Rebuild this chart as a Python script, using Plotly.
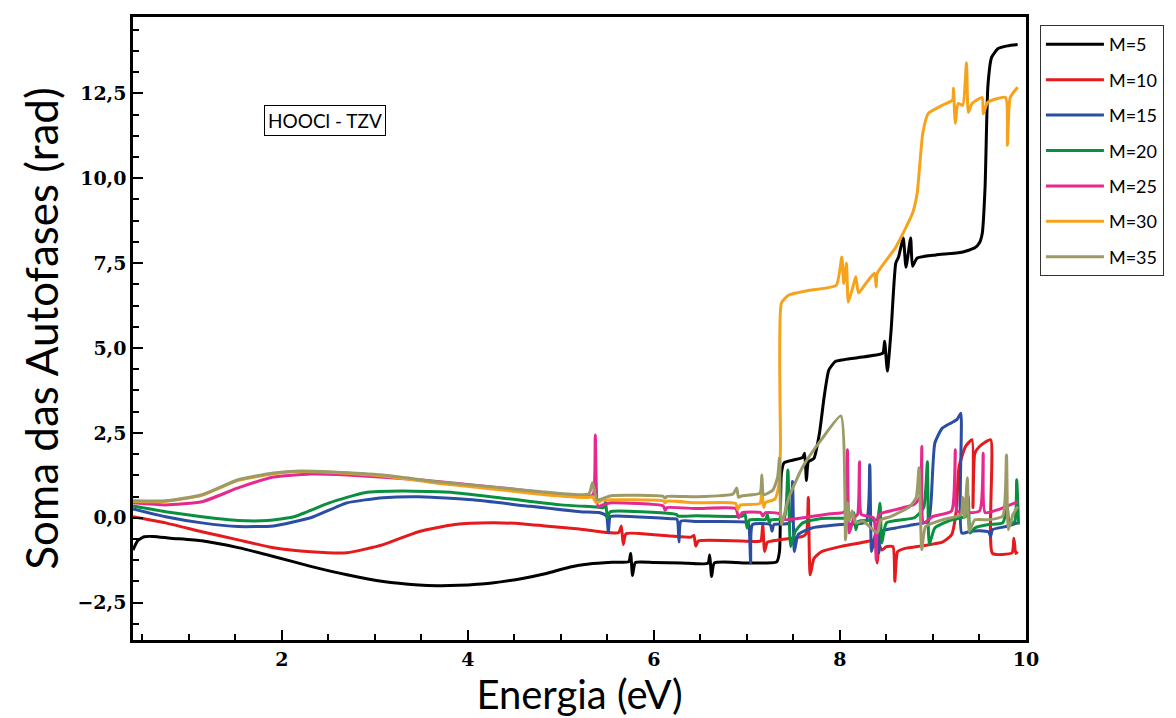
import plotly.graph_objects as go

# Sum of eigenphases vs. collision energy for HOOCl (TZV basis), one curve per M
m5 = [(0.40, -0.95), (0.45, -0.68), (0.52, -0.56), (0.62, -0.55), (0.80, -0.60), (1.14, -0.68),
      (1.53, -0.88), (1.91, -1.14), (2.31, -1.43), (2.70, -1.68), (3.09, -1.88), (3.47, -1.98),
      (3.67, -2.00), (3.90, -1.99), (4.26, -1.92), (4.60, -1.78), (4.83, -1.65), (5.10, -1.45),
      (5.30, -1.36), (5.55, -1.31), (5.73, -1.29), (5.75, -1.05), (5.77, -1.70), (5.80, -1.32),
      (6.00, -1.32), (6.30, -1.33), (6.58, -1.34), (6.60, -1.10), (6.62, -1.73), (6.65, -1.33),
      (7.00, -1.33), (7.20, -1.33), (7.32, -1.30), (7.35, -1.00), (7.37, 1.30), (7.40, 1.62),
      (7.50, 1.70), (7.60, 1.78), (7.62, 1.90), (7.64, 1.10), (7.66, 1.65), (7.72, 1.75),
      (7.78, 2.50), (7.83, 3.56), (7.88, 4.35), (7.95, 4.60), (8.03, 4.65), (8.20, 4.72),
      (8.46, 4.85), (8.48, 5.20), (8.51, 4.32), (8.55, 5.53), (8.60, 7.50), (8.63, 7.68),
      (8.68, 8.24), (8.71, 7.38), (8.76, 8.24), (8.78, 7.41), (8.83, 7.65), (9.03, 7.74),
      (9.31, 7.82), (9.45, 7.95), (9.50, 8.10), (9.53, 8.38), (9.56, 9.74), (9.59, 12.70),
      (9.63, 13.56), (9.70, 13.82), (9.80, 13.90), (9.91, 13.94)]

m10 = [(0.40, 0.03), (0.75, -0.15), (1.14, -0.41), (1.53, -0.65), (1.91, -0.88), (2.31, -1.00),
       (2.70, -1.03), (3.09, -0.79), (3.47, -0.41), (3.86, -0.20), (4.26, -0.15), (4.60, -0.18),
       (4.83, -0.24), (5.20, -0.33), (5.42, -0.41), (5.62, -0.44), (5.65, -0.24), (5.67, -0.79),
       (5.70, -0.47), (6.00, -0.50), (6.40, -0.57), (6.43, -0.52), (6.45, -0.83), (6.48, -0.68),
       (7.10, -0.70), (7.15, -0.68), (7.17, -0.20), (7.19, -0.99), (7.22, -0.72), (7.35, -0.65),
       (7.60, -0.55), (7.64, -0.45), (7.66, 0.60), (7.68, -1.68), (7.72, -1.20), (7.80, -1.00),
       (8.00, -0.85), (8.20, -0.75), (8.37, -0.68), (8.40, -1.33), (8.42, -0.80), (8.45, -0.95),
       (8.50, -0.85), (8.57, -0.85), (8.59, -1.87), (8.62, -1.00), (8.70, -0.90), (8.90, -0.82),
       (9.10, -0.72), (9.20, -0.50), (9.25, 0.20), (9.28, 1.50), (9.35, 2.10), (9.42, 2.30),
       (9.43, 0.30), (9.45, 1.90), (9.50, 2.10), (9.62, 2.30), (9.64, -1.05), (9.85, -1.03),
       (9.87, -0.60), (9.89, -1.05), (9.91, -1.00)]

m15 = [(0.40, 0.26), (0.75, 0.03), (1.14, -0.15), (1.53, -0.26), (1.91, -0.24), (2.31, 0.00),
       (2.70, 0.44), (3.09, 0.59), (3.47, 0.62), (4.05, 0.53), (4.63, 0.35), (5.21, 0.18),
       (5.42, 0.15), (5.49, 0.05), (5.51, -0.44), (5.53, 0.03), (5.60, 0.05), (6.20, -0.03),
       (6.25, -0.05), (6.27, -0.71), (6.29, -0.10), (6.46, -0.11), (7.00, -0.13), (7.02, -0.20),
       (7.04, -1.33), (7.06, -0.20), (7.25, -0.20), (7.27, -0.40), (7.29, -0.20), (7.46, -0.15),
       (7.49, 1.07), (7.51, -0.99), (7.55, -0.50), (7.70, -0.30), (8.00, -0.20), (8.28, -0.12),
       (8.32, 1.56), (8.34, -0.99), (8.38, -0.50), (8.40, -0.45), (8.42, -1.03), (8.44, -0.40),
       (8.60, -0.30), (8.80, -0.20), (8.95, -0.10), (8.98, 0.50), (9.02, 2.20), (9.10, 2.64),
       (9.20, 2.80), (9.26, 2.90), (9.30, 3.08), (9.31, -0.45), (9.40, -0.40), (9.50, -0.38),
       (9.60, -0.42), (9.62, -0.55), (9.64, -0.35), (9.80, -0.25), (9.91, -0.15)]

m20 = [(0.40, 0.35), (0.75, 0.18), (1.14, 0.03), (1.53, -0.08), (1.85, -0.08), (2.13, 0.03),
       (2.51, 0.44), (2.89, 0.74), (3.30, 0.79), (3.86, 0.74), (4.44, 0.56), (5.00, 0.38),
       (5.38, 0.32), (5.46, 0.30), (5.48, 0.47), (5.50, 0.00), (5.53, 0.18), (6.20, 0.12),
       (6.24, 0.10), (6.26, 0.05), (6.46, 0.06), (6.95, 0.05), (6.98, 0.12), (7.00, -0.30),
       (7.03, -0.06), (7.20, -0.05), (7.22, 0.09), (7.24, -0.15), (7.26, -0.06), (7.40, -0.02),
       (7.44, 1.41), (7.47, -0.85), (7.52, -0.40), (7.60, -0.15), (7.80, -0.02), (8.10, 0.00),
       (8.15, 0.15), (8.17, -0.35), (8.20, -0.10), (8.40, -0.05), (8.43, 0.43), (8.45, -0.74),
       (8.50, -0.15), (8.80, 0.00), (8.90, 0.30), (8.94, 1.65), (8.96, -0.79), (9.02, -0.30),
       (9.20, -0.06), (9.36, 0.05), (9.38, 0.63), (9.40, -0.45), (9.45, -0.30), (9.60, -0.20),
       (9.75, -0.15), (9.80, 0.30), (9.82, -0.20), (9.88, -0.10), (9.90, 1.12), (9.92, -0.20)]

m25 = [(0.40, 0.44), (0.75, 0.38), (1.14, 0.47), (1.53, 0.88), (1.91, 1.20), (2.31, 1.29),
       (2.70, 1.26), (3.47, 1.12), (4.26, 0.91), (4.83, 0.74), (5.30, 0.62), (5.35, 0.70),
       (5.37, 2.44), (5.40, 0.32), (5.45, 0.38), (5.54, 0.44), (6.10, 0.35), (6.12, 0.22),
       (6.14, 0.30), (6.46, 0.27), (6.88, 0.27), (6.91, 0.00), (6.95, 0.15), (7.15, 0.15),
       (7.17, 0.05), (7.20, 0.15), (7.35, 0.12), (7.38, -0.05), (7.60, 0.00), (7.90, 0.12),
       (8.05, 0.18), (8.08, 2.00), (8.10, -0.45), (8.15, 0.00), (8.19, 0.10), (8.21, 1.65),
       (8.23, 0.10), (8.36, 0.00), (8.39, -1.24), (8.42, 0.09), (8.60, 0.24), (8.80, 0.40),
       (8.86, 0.60), (8.88, 2.10), (8.90, -0.15), (9.00, 0.04), (9.20, 0.20), (9.24, 2.00),
       (9.26, 0.20), (9.50, 0.20), (9.54, 1.90), (9.56, 0.15), (9.70, 0.24), (9.91, 0.47)]

m30 = [(0.40, 0.48), (0.75, 0.48), (1.14, 0.66), (1.53, 1.10), (1.91, 1.30), (2.19, 1.36),
       (2.55, 1.33), (3.09, 1.23), (3.67, 1.02), (4.26, 0.85), (4.83, 0.68), (5.30, 0.60),
       (5.34, 0.62), (5.38, 0.45), (5.45, 0.52), (5.54, 0.53), (6.10, 0.50), (6.12, 0.44),
       (6.14, 0.49), (6.46, 0.44), (6.88, 0.42), (6.90, 0.24), (6.93, 0.38), (7.14, 0.42),
       (7.16, 0.80), (7.18, 0.30), (7.20, 0.45), (7.30, 0.55), (7.34, 0.92), (7.36, 2.00),
       (7.37, 6.32), (7.45, 6.56), (7.67, 6.70), (7.96, 6.85), (8.02, 7.68), (8.04, 6.90),
       (8.07, 7.50), (8.09, 6.35), (8.15, 6.91), (8.17, 7.10), (8.20, 6.62), (8.28, 6.91),
       (8.37, 7.20), (8.39, 6.80), (8.40, 7.20), (8.60, 7.97), (8.78, 8.97), (8.83, 9.56),
       (8.89, 11.32), (8.95, 11.91), (9.10, 12.15), (9.21, 12.30), (9.22, 12.65), (9.24, 11.62),
       (9.27, 12.20), (9.32, 12.15), (9.36, 13.40), (9.38, 11.94), (9.42, 12.20), (9.53, 12.38),
       (9.54, 11.90), (9.59, 12.24), (9.78, 12.38), (9.80, 10.97), (9.83, 12.38), (9.91, 12.68)]

m35 = [(0.40, 0.50), (0.75, 0.50), (1.14, 0.68), (1.53, 1.12), (1.91, 1.32), (2.19, 1.38),
       (2.55, 1.35), (3.09, 1.26), (3.67, 1.06), (4.26, 0.91), (4.83, 0.76), (5.30, 0.70),
       (5.34, 1.03), (5.39, 0.53), (5.54, 0.65), (6.10, 0.63), (6.12, 0.58), (6.14, 0.63),
       (6.46, 0.62), (6.85, 0.70), (6.89, 0.88), (6.91, 0.60), (6.95, 0.65), (7.14, 0.72),
       (7.16, 1.26), (7.18, 0.68), (7.28, 0.82), (7.33, 1.20), (7.35, 1.76), (7.37, -0.20),
       (7.45, 0.60), (7.60, 1.50), (7.80, 2.30), (8.01, 3.00), (8.06, -0.65), (8.08, 0.44),
       (8.10, -0.10), (8.13, 0.20), (8.17, -0.15), (8.25, -0.10), (8.40, -0.45), (8.44, -0.06),
       (8.55, 0.04), (8.75, 0.33), (8.82, 0.60), (8.85, 1.47), (8.88, -0.94), (8.92, -0.26),
       (9.10, -0.06), (9.30, 0.09), (9.32, 0.60), (9.34, 0.00), (9.37, 1.18), (9.39, -0.40),
       (9.45, -0.06), (9.60, -0.06), (9.75, 0.05), (9.79, 1.85), (9.81, -0.35), (9.86, 0.09),
       (9.91, 0.33)]

series_names = ["M=5", "M=10", "M=15", "M=20", "M=25", "M=30", "M=35"]
series_data = [m5, m10, m15, m20, m25, m30, m35]
series_colors = ["#000000", "#E41A1C", "#2B4EA2", "#0A8F3F", "#E6298F", "#F7A21B", "#9C9A66"]

x_ticks = [2, 4, 6, 8, 10]
x_labels = ["2", "4", "6", "8", "10"]
y_ticks = [-2.5, 0.0, 2.5, 5.0, 7.5, 10.0, 12.5]
y_labels = ["\u22122,5", "0,0", "2,5", "5,0", "7,5", "10,0", "12,5"]

SANS = "Lato"

fig = go.Figure()
for name, pts, color in zip(series_names, series_data, series_colors):
    xs = [p[0] for p in pts]
    ys = [p[1] for p in pts]
    fig.add_trace(go.Scatter(x=xs, y=ys, mode="lines", name=name, legendgroup=name,
                             line=dict(color=color, width=3, shape="spline", smoothing=0.5)))

tick_font = dict(family="DejaVu Serif", size=19, color="black", weight="bold")
axis_common = dict(showline=True, linewidth=2.5, linecolor="black", mirror=True,
                   showgrid=False, zeroline=False, ticks="inside", ticklen=10,
                   tickwidth=1.5, tickcolor="black", tickfont=tick_font)

fig.update_xaxes(range=[0.4, 10.0], tickmode="array", tickvals=x_ticks, ticktext=x_labels,
                 minor=dict(ticks="inside", ticklen=6, tickwidth=1.5, tickcolor="black",
                            dtick=0.5, tick0=0, showgrid=False),
                 title=dict(text="Energia (eV)", font=dict(family=SANS, size=40, color="black"),
                            standoff=3),
                 automargin=False,
                 **axis_common)
fig.update_yaxes(range=[-3.6, 14.75], tickmode="array", tickvals=y_ticks, ticktext=y_labels,
                 minor=dict(ticks="inside", ticklen=6, tickwidth=1.5, tickcolor="black",
                            dtick=0.625, tick0=0, showgrid=False),
                 title=dict(text="Soma das Autofases (rad)",
                            font=dict(family=SANS, size=44, color="black"), standoff=6),
                 **axis_common)

fig.add_annotation(x=2.46, y=11.7, xref="x", yref="y", text="HOOCl - TZV", showarrow=False,
                   font=dict(family=SANS, size=19, color="black"), bordercolor="black",
                   borderwidth=1, borderpad=3, bgcolor="white")

fig.update_layout(
    width=1176, height=718,
    margin=dict(l=133, r=148, t=17, b=78),
    plot_bgcolor="white", paper_bgcolor="white",
    showlegend=True,
    legend=dict(x=1.0156, y=0.987, xanchor="left", yanchor="top",
                bordercolor="#333333", borderwidth=1, bgcolor="white",
                font=dict(family=SANS, size=18, color="black"),
                tracegroupgap=9, itemwidth=58),
)

fig.write_html("out.html")
